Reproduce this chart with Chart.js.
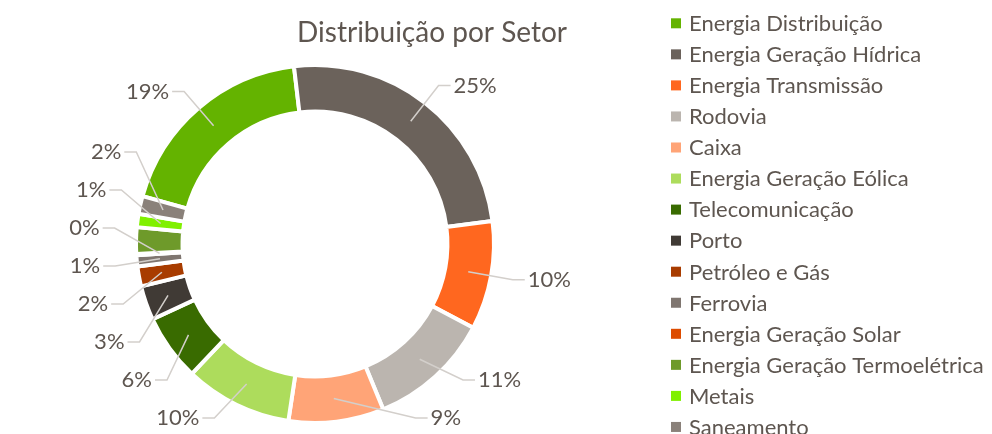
<!DOCTYPE html>
<html lang="pt-BR">
<head>
<meta charset="utf-8">
<title>Distribuição por Setor</title>
<script src="https://cdn.jsdelivr.net/npm/chart.js@4.4.1/dist/chart.umd.min.js"></script>
<style>
    html, body { margin: 0; padding: 0; background: #fff; }
    #wrap { width: 992px; height: 434px; position: relative; }
</style>
</head>
<body>
<div id="wrap"><canvas id="setorChart"></canvas></div>
<script>
// Dados (participação por setor, %)
const setores = [
    'Energia Distribuição',
    'Energia Geração Hídrica',
    'Energia Transmissão',
    'Rodovia',
    'Caixa',
    'Energia Geração Eólica',
    'Telecomunicação',
    'Porto',
    'Petróleo e Gás',
    'Ferrovia',
    'Energia Geração Solar',
    'Energia Geração Termoelétrica',
    'Metais',
    'Saneamento'
];
const percentuais = [18.8, 24.8, 9.8, 11.0, 8.6, 9.7, 6.0, 3.1, 1.8, 1.0, 0.1, 2.4, 1.2, 1.6];
const cores = [
    '#64B300', '#6B625B', '#FF671F', '#BBB5AF', '#FFA477', '#ADDC5C', '#396B00',
    '#403A35', '#A83C00', '#7F7670', '#DD4C00', '#6E9A2A', '#80F000', '#8A817A'
];
// rótulo que não aparece no original
const rotulosOcultos = ['Energia Geração Termoelétrica'];
const titulo = 'Distribuição por Setor';

const corTexto = '#5E5650';
const fonte = 'Lato, "Open Sans", sans-serif';

// título desenhado à mão (centrado sobre a área do gráfico, não do canvas)
const tituloPlugin = {
    id: 'tituloSetor',
    afterDraw(chart, args, opts) {
        const ctx = chart.ctx;
        ctx.save();
        ctx.font = '28px ' + fonte;
        ctx.fillStyle = corTexto;
        ctx.textAlign = 'center';
        ctx.textBaseline = 'alphabetic';
        ctx.fillText(titulo, opts.x, opts.y);
        ctx.restore();
    }
};

// legenda lateral
const legendaPlugin = {
    id: 'legendaLateral',
    afterDraw(chart, args, opts) {
        const ctx = chart.ctx;
        const ds = chart.data.datasets[0];
        ctx.save();
        ctx.font = '22px ' + fonte;
        ctx.textAlign = 'left';
        ctx.textBaseline = 'alphabetic';
        chart.data.labels.forEach((label, i) => {
            const cy = opts.y + i * opts.passo;
            ctx.fillStyle = ds.backgroundColor[i];
            ctx.fillRect(opts.x, cy - opts.caixa / 2, opts.caixa, opts.caixa);
            ctx.fillStyle = corTexto;
            ctx.fillText(label, opts.textoX, cy + 7.8);
        });
        ctx.restore();
    }
};

// rótulos de porcentagem com linhas de chamada
function espalhar(lista, gap, minY, maxY) {
    lista.forEach(it => { it.alvo = Math.min(Math.max(it.alvo, minY), maxY); });
    lista.sort((a, b) => a.alvo - b.alvo);
    let grupos = lista.map(it => ({ itens: [it] }));
    const topo = g => {
        const n = g.itens.length;
        const media = g.itens.reduce((s, it) => s + it.alvo, 0) / n;
        let t = media - (n - 1) * gap / 2;
        t = Math.max(minY, Math.min(t, maxY - (n - 1) * gap));
        return t;
    };
    let mudou = true;
    while (mudou) {
        mudou = false;
        for (let i = 1; i < grupos.length; i++) {
            const a = grupos[i - 1], b = grupos[i];
            const fimA = topo(a) + (a.itens.length - 1) * gap;
            if (topo(b) - fimA < gap) {
                a.itens = a.itens.concat(b.itens);
                grupos.splice(i, 1);
                mudou = true;
                break;
            }
        }
    }
    grupos.forEach(g => {
        const t = topo(g);
        g.itens.forEach((it, k) => { it.y = t + k * gap; });
    });
}

const rotulosPlugin = {
    id: 'rotulosExternos',
    afterDatasetsDraw(chart, args, opts) {
        const meta = chart.getDatasetMeta(0);
        const ctx = chart.ctx;
        const total = percentuais.reduce((a, b) => a + b, 0);
        const esquerda = [], direita = [];
        meta.data.forEach((arc, i) => {
            if (rotulosOcultos.includes(setores[i])) return;
            const p = arc.getProps(['x', 'y', 'startAngle', 'endAngle', 'innerRadius', 'outerRadius'], true);
            const meio = (p.startAngle + p.endAngle) / 2;
            const rMeio = (p.innerRadius + p.outerRadius) / 2;
            const r = p.outerRadius + opts.distancia;
            const item = {
                texto: Math.round(percentuais[i] / total * 100) + '%',
                ax: p.x + Math.cos(meio) * rMeio,
                ay: p.y + Math.sin(meio) * rMeio,
                cx: p.x, cy: p.y, r: r,
                alvo: p.y + Math.sin(meio) * r
            };
            (Math.cos(meio) < 0 ? esquerda : direita).push(item);
        });
        espalhar(esquerda, opts.espaco, opts.minY, opts.maxY);
        espalhar(direita, opts.espaco, opts.minY, opts.maxY);

        ctx.save();
        ctx.font = '22px ' + fonte;
        ctx.textBaseline = 'middle';
        ctx.lineWidth = 1.5;
        ctx.strokeStyle = opts.corLinha;
        const desenhar = (it, lado) => {
            const dy = it.y - it.cy;
            const dx = Math.sqrt(Math.max(it.r * it.r - dy * dy, 0));
            const px = it.cx + lado * dx;
            ctx.beginPath();
            ctx.moveTo(it.ax, it.ay);
            ctx.lineTo(px, it.y);
            ctx.lineTo(px + lado * opts.traco, it.y);
            ctx.stroke();
            ctx.fillStyle = corTexto;
            ctx.textAlign = lado < 0 ? 'right' : 'left';
            ctx.fillText(it.texto, px + lado * (opts.traco + 3), it.y);
        };
        esquerda.forEach(it => desenhar(it, -1));
        direita.forEach(it => desenhar(it, 1));
        ctx.restore();
    }
};

const ctx = document.getElementById('setorChart');
const setorChart = new Chart(ctx, {
    type: 'doughnut',
    data: {
        labels: setores,
        datasets: [{
            data: percentuais,
            backgroundColor: cores,
            borderColor: '#ffffff',
            borderWidth: 4
        }]
    },
    options: {
        responsive: true,
        maintainAspectRatio: false,
        animation: false,
        cutout: '74%',
        rotation: -74.5,
        layout: {
            padding: { left: 134, right: 496, top: 63, bottom: 9 }
        },
        plugins: {
            legend: { display: false },
            tooltip: { enabled: false },
            tituloSetor: { x: 432, y: 41.5 },
            legendaLateral: { x: 671, y: 23.3, passo: 31.05, caixa: 10, textoX: 689 },
            rotulosExternos: { distancia: 22, espaco: 38, minY: 18, maxY: 418, traco: 12, corLinha: '#D3CFCB' }
        }
    },
    plugins: [rotulosPlugin, tituloPlugin, legendaPlugin]
});
</script>
</body>
</html>
